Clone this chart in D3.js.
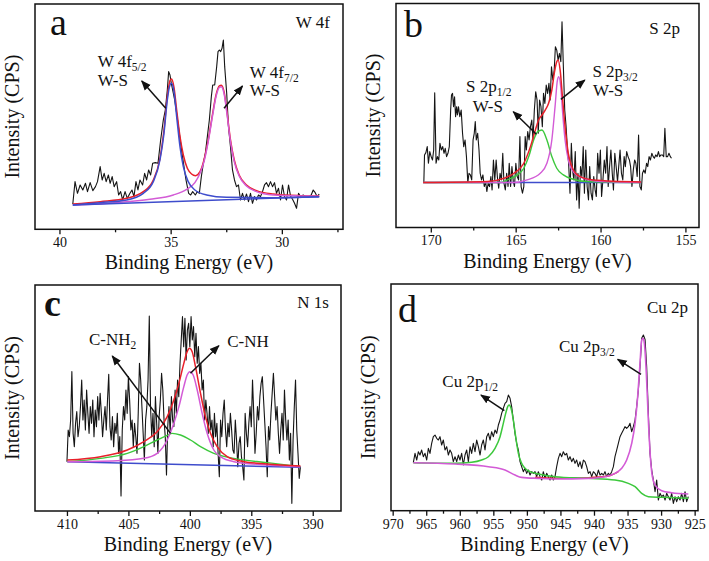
<!DOCTYPE html>
<html><head><meta charset="utf-8">
<script src="https://cdn.jsdelivr.net/npm/d3@7"></script>
<style>
body{margin:0;background:#fff;}
svg{display:block;}
svg text{font-family:"Liberation Serif","Times New Roman",Times,serif;}
</style></head><body>
<svg id="chart" width="709" height="561"></svg>
<script>
// ---------- Panel a : W 4f ----------
const wTicks = [40, 35, 30];
const wMinor = [37.5, 32.5, 27.5];
const wRaw = [[39.40,76],[39.30,143],[39.19,108],[39.07,133],[38.95,118],[38.83,138],[38.74,113],[38.62,140],[38.50,116],[38.38,128],[38.29,143],[38.17,188],[38.08,148],[37.99,168],[37.90,143],[37.80,163],[37.72,138],[37.63,158],[37.54,128],[37.43,143],[37.34,103],[37.25,113],[37.16,88],[37.05,113],[36.95,93],[36.83,108],[36.74,118],[36.65,98],[36.56,143],[36.47,118],[36.38,148],[36.26,133],[36.17,168],[36.08,148],[35.99,178],[35.90,163],[35.81,198],[35.69,200],[35.57,198],[35.45,268],[35.33,328],[35.24,358],[35.15,418],[35.09,473],[35.03,463],[34.97,438],[34.91,418],[34.82,388],[34.73,348],[34.61,288],[34.49,228],[34.40,188],[34.31,148],[34.19,108],[34.10,103],[34.01,113],[33.89,103],[33.80,113],[33.71,108],[33.62,158],[33.53,198],[33.44,228],[33.35,278],[33.26,328],[33.17,398],[33.11,433],[33.02,433],[32.93,488],[32.87,533],[32.81,538],[32.75,533],[32.69,543],[32.63,568],[32.57,488],[32.48,408],[32.40,308],[32.31,248],[32.22,178],[32.13,148],[32.04,128],[31.95,133],[31.86,88],[31.77,108],[31.68,88],[31.59,106],[31.50,83],[31.41,108],[31.32,78],[31.23,98],[31.14,88],[31.05,103],[30.96,98],[30.87,113],[30.78,133],[30.69,140],[30.60,128],[30.51,143],[30.42,128],[30.33,140],[30.24,108],[30.15,123],[30.06,88],[29.97,133],[29.88,98],[29.79,88],[29.70,133],[29.61,100],[29.52,90],[29.43,78],[29.34,63],[29.25,108],[29.16,98],[29.04,103],[28.92,98],[28.80,96],[28.68,103],[28.59,118],[28.50,110],[28.41,98],[28.32,106]];
const wFit52 = [[39.40,73],[38.17,80],[36.98,88],[36.23,108],[35.78,143],[35.48,208],[35.30,288],[35.15,388],[35.03,433],[34.96,438],[34.85,413],[34.73,338],[34.58,248],[34.43,188],[34.21,143],[33.91,118],[33.38,103],[32.49,96],[30.69,95],[28.32,98]];
const wFit72 = [[39.40,73],[37.43,80],[35.93,90],[34.88,103],[34.28,120],[33.91,140],[33.68,168],[33.50,203],[33.31,263],[33.11,343],[32.96,398],[32.81,426],[32.72,428],[32.60,408],[32.46,343],[32.31,263],[32.14,203],[31.92,160],[31.59,130],[31.14,113],[30.39,103],[29.19,100],[28.32,99]];
const wEnvelope = [[39.40,76],[38.17,83],[36.98,93],[36.23,113],[35.78,148],[35.48,213],[35.30,298],[35.15,398],[35.03,446],[34.96,451],[34.85,426],[34.73,358],[34.58,278],[34.43,223],[34.25,183],[34.06,166],[33.88,161],[33.68,173],[33.50,208],[33.31,268],[33.11,348],[32.96,403],[32.81,430],[32.72,432],[32.60,413],[32.46,348],[32.31,268],[32.14,208],[31.92,163],[31.59,133],[31.14,116],[30.39,106],[29.19,101],[28.32,100]];
const wBase = [[39.40,73],[28.32,98]];

// ---------- Panel b : S 2p ----------
const sTicks = [170, 165, 160, 155];
const sMinor = [167.5, 162.5, 157.5];
const sRaw = [[170.41,135],[170.37,218],[170.29,225],[170.21,243],[170.14,193],[170.06,228],[169.98,213],[169.90,203],[169.83,233],[169.77,405],[169.69,193],[169.61,213],[169.53,203],[169.46,253],[169.38,233],[169.30,243],[169.22,223],[169.15,238],[169.07,213],[168.99,223],[168.91,243],[168.83,353],[168.78,398],[168.72,403],[168.66,363],[168.60,393],[168.54,333],[168.48,363],[168.43,338],[168.37,363],[168.29,333],[168.21,353],[168.13,283],[168.06,243],[167.98,263],[167.90,213],[167.82,135],[167.75,163],[167.67,158],[167.59,143],[167.51,263],[167.44,283],[167.38,318],[167.32,263],[167.24,283],[167.16,233],[167.09,163],[167.01,143],[166.93,158],[166.85,123],[166.77,138],[166.70,108],[166.62,133],[166.54,123],[166.46,153],[166.39,113],[166.31,203],[166.23,143],[166.15,203],[166.08,153],[166.00,118],[165.92,163],[165.84,143],[165.76,223],[165.69,133],[165.61,113],[165.53,163],[165.45,123],[165.38,193],[165.30,123],[165.22,183],[165.14,138],[165.07,123],[164.99,193],[164.91,153],[164.83,143],[164.75,273],[164.68,123],[164.60,103],[164.52,123],[164.44,273],[164.37,233],[164.29,288],[164.21,263],[164.13,303],[164.05,323],[163.98,263],[163.90,353],[163.82,408],[163.74,383],[163.67,283],[163.59,383],[163.51,363],[163.43,303],[163.36,403],[163.28,373],[163.20,428],[163.12,403],[163.04,433],[162.97,383],[162.89,483],[162.81,443],[162.73,473],[162.66,543],[162.58,533],[162.50,503],[162.42,523],[162.34,498],[162.27,618],[162.19,483],[162.11,353],[162.03,303],[161.96,243],[161.88,193],[161.80,103],[161.72,253],[161.65,173],[161.57,143],[161.49,228],[161.41,83],[161.33,163],[161.26,58],[161.18,183],[161.10,153],[161.02,243],[160.95,103],[160.87,233],[160.79,123],[160.71,83],[160.64,183],[160.56,103],[160.48,83],[160.40,153],[160.32,113],[160.25,93],[160.17,223],[160.09,163],[160.01,233],[159.94,93],[159.86,143],[159.78,203],[159.70,163],[159.62,243],[159.55,123],[159.47,183],[159.39,233],[159.31,163],[159.24,113],[159.16,223],[159.08,183],[159.00,138],[158.93,183],[158.85,233],[158.77,163],[158.69,143],[158.61,213],[158.54,183],[158.46,228],[158.38,213],[158.30,203],[158.23,183],[158.15,123],[158.07,173],[157.99,203],[157.92,193],[157.84,153],[157.76,278],[157.68,123],[157.60,113],[157.53,163],[157.45,173],[157.37,163],[157.29,193],[157.22,183],[157.14,213],[157.06,203],[156.98,223],[156.90,213],[156.83,208],[156.75,218],[156.67,213],[156.59,228],[156.52,213],[156.44,218],[156.36,218],[156.28,213],[156.21,298],[156.13,213],[156.05,213],[155.97,223],[155.89,213],[155.82,208]];
const sFit12 = [[170.45,135],[165.88,135],[165.49,143],[164.91,158],[164.52,178],[164.23,213],[163.94,263],[163.70,288],[163.45,293],[163.16,263],[162.87,213],[162.58,178],[162.19,158],[161.61,145],[160.83,138],[157.62,135]];
const sFit32 = [[170.45,135],[165.10,135],[164.33,143],[163.55,163],[163.16,193],[162.87,263],[162.68,363],[162.54,443],[162.46,453],[162.34,420],[162.23,343],[162.09,263],[161.90,203],[161.61,168],[161.02,148],[159.86,138],[157.62,135]];
const sEnvelope = [[170.45,135],[166.66,138],[165.69,148],[165.10,163],[164.52,193],[164.13,243],[163.84,293],[163.65,323],[163.45,338],[163.26,353],[163.06,373],[162.87,413],[162.71,468],[162.58,498],[162.50,503],[162.38,473],[162.23,383],[162.07,293],[161.90,223],[161.65,178],[161.22,153],[160.44,143],[157.62,137]];
const sBase = [[170.45,135],[157.62,135]];

// ---------- Panel c : N 1s ----------
const nTicks = [410, 405, 400, 395, 390];
const nMinor = [407.5, 402.5, 397.5, 392.5];
const nRaw = [[410.0,148],[409.9,243],[409.8,223],[409.7,273],[409.6,418],[409.5,233],[409.4,193],[409.3,263],[409.2,298],[409.1,223],[409.0,253],[408.9,313],[408.8,393],[408.7,273],[408.6,333],[408.5,243],[408.4,363],[408.3,293],[408.2,233],[408.1,313],[408.0,263],[407.9,333],[407.8,223],[407.7,303],[407.6,253],[407.5,343],[407.4,273],[407.3,353],[407.2,293],[407.1,223],[407.0,273],[406.9,313],[406.8,243],[406.7,333],[406.6,410],[406.5,253],[406.4,213],[406.3,283],[406.2,193],[406.1,263],[406.0,233],[405.9,293],[405.8,173],[405.7,223],[405.6,45],[405.5,243],[405.4,313],[405.3,273],[405.2,363],[405.1,293],[405.0,403],[404.9,333],[404.8,243],[404.7,273],[404.6,193],[404.5,263],[404.4,223],[404.3,173],[404.2,293],[404.1,443],[404.0,393],[403.9,313],[403.8,233],[403.7,153],[403.6,273],[403.5,313],[403.4,393],[403.3,585],[403.2,313],[403.1,223],[403.0,293],[402.9,193],[402.8,343],[402.7,263],[402.6,173],[402.5,283],[402.4,333],[402.3,413],[402.2,363],[402.1,273],[402.0,223],[401.9,108],[401.8,253],[401.7,313],[401.6,233],[401.5,343],[401.4,273],[401.3,253],[401.2,363],[401.1,293],[401.0,393],[400.9,343],[400.8,443],[400.7,513],[400.6,583],[400.5,493],[400.4,578],[400.3,453],[400.2,543],[400.1,563],[400.0,493],[399.9,583],[399.8,513],[399.7,553],[399.6,463],[399.5,533],[399.4,443],[399.3,493],[399.2,413],[399.1,443],[399.0,363],[398.9,393],[398.8,273],[398.7,333],[398.6,293],[398.5,233],[398.4,313],[398.3,243],[398.2,273],[398.1,193],[398.0,293],[397.9,223],[397.8,263],[397.7,173],[397.6,103],[397.5,273],[397.4,223],[397.3,293],[397.2,333],[397.1,243],[397.0,193],[396.9,263],[396.8,223],[396.7,293],[396.6,243],[396.5,183],[396.4,173],[396.3,273],[396.2,213],[396.1,133],[396.0,203],[395.9,223],[395.8,163],[395.7,133],[395.6,93],[395.5,293],[395.4,233],[395.3,193],[395.2,263],[395.1,313],[395.0,253],[394.9,393],[394.8,293],[394.7,173],[394.6,233],[394.5,313],[394.4,273],[394.3,343],[394.2,383],[394.1,403],[394.0,333],[393.9,263],[393.8,193],[393.7,103],[393.6,253],[393.5,213],[393.4,293],[393.3,353],[393.2,413],[393.1,343],[393.0,273],[392.9,313],[392.8,233],[392.7,173],[392.6,243],[392.5,293],[392.4,213],[392.3,363],[392.2,273],[392.1,213],[392.0,273],[391.9,153],[391.8,233],[391.7,23],[391.6,213],[391.5,313],[391.4,393],[391.3,243],[391.2,173],[391.1,98],[391.0,133]];
const nFitNH2 = [[409.97,148],[407.26,158],[405.09,173],[403.74,193],[402.66,213],[401.84,227],[401.44,233],[400.76,228],[399.95,213],[399.13,193],[398.05,173],[396.42,158],[393.71,145],[391.00,133]];
const nFitNH = [[409.97,148],[405.91,151],[403.74,158],[402.66,173],[401.84,213],[401.30,263],[400.89,313],[400.49,373],[400.22,408],[400.00,418],[399.73,408],[399.40,363],[399.00,293],[398.59,233],[398.05,183],[397.51,163],[396.42,148],[393.71,138],[391.00,133]];
const nEnvelope = [[409.97,153],[407.26,163],[405.09,183],[403.74,208],[402.66,238],[401.84,283],[401.30,333],[400.89,383],[400.49,443],[400.22,478],[400.03,488],[399.81,478],[399.54,433],[399.13,353],[398.73,283],[398.32,233],[397.78,193],[396.96,163],[395.88,150],[393.71,141],[391.00,135]];
const nBase = [[409.97,148],[391.00,131]];

// ---------- Panel d : Cu 2p ----------
const cTicks = [970, 965, 960, 955, 950, 945, 940, 935, 930, 925];
const cMinor = [967.5, 962.5, 957.5, 952.5, 947.5, 942.5, 937.5, 932.5, 927.5];
const cRaw = [[966.92,144],[966.67,172],[966.42,152],[966.17,177],[965.93,167],[965.68,182],[965.43,162],[965.18,172],[964.93,152],[964.68,187],[964.44,172],[964.19,202],[963.94,222],[963.69,227],[963.44,217],[963.19,212],[962.95,222],[962.70,197],[962.45,212],[962.20,182],[961.95,192],[961.70,167],[961.46,182],[961.21,172],[960.96,147],[960.71,162],[960.46,147],[960.21,167],[959.97,152],[959.72,172],[959.47,137],[959.22,167],[958.97,182],[958.72,147],[958.47,192],[958.23,172],[957.98,202],[957.73,177],[957.48,212],[957.23,192],[956.98,167],[956.74,197],[956.49,212],[956.24,182],[955.99,222],[955.74,232],[955.49,212],[955.25,237],[955.00,222],[954.75,242],[954.50,232],[954.25,257],[954.00,272],[953.76,292],[953.51,307],[953.26,322],[953.01,327],[952.76,347],[952.51,337],[952.27,312],[952.02,272],[951.77,232],[951.52,202],[951.27,182],[951.02,147],[950.78,132],[950.53,117],[950.28,127],[950.03,112],[949.78,122],[949.53,107],[949.28,117],[949.04,112],[948.79,117],[948.54,102],[948.29,117],[948.04,102],[947.79,92],[947.55,117],[947.30,97],[947.05,112],[946.80,102],[946.55,92],[946.30,107],[946.06,92],[945.81,102],[945.56,132],[945.31,157],[945.06,172],[944.81,162],[944.57,177],[944.32,167],[944.07,172],[943.82,152],[943.57,162],[943.32,147],[943.07,157],[942.83,142],[942.58,152],[942.33,132],[942.08,147],[941.83,127],[941.58,152],[941.34,147],[941.09,132],[940.84,112],[940.59,117],[940.34,102],[940.09,117],[939.85,112],[939.60,102],[939.35,122],[939.10,107],[938.85,112],[938.60,107],[938.36,117],[938.11,102],[937.86,112],[937.61,107],[937.36,117],[937.11,132],[936.87,162],[936.62,182],[936.37,202],[936.12,222],[935.87,232],[935.62,242],[935.38,252],[935.13,247],[934.88,252],[934.63,262],[934.38,237],[934.13,252],[933.88,272],[933.64,312],[933.39,362],[933.14,432],[932.89,517],[932.64,527],[932.39,514],[932.15,432],[931.90,292],[931.65,172],[931.40,122],[931.15,92],[930.90,57],[930.66,92],[930.41,32],[930.16,52],[929.91,42],[929.66,47],[929.41,32],[929.17,52],[928.92,42],[928.67,32],[928.42,52],[928.17,22],[927.92,42],[927.68,27],[927.43,42],[927.18,32],[926.93,52],[926.68,27],[926.43,57],[926.19,27],[925.94,42]];
const cFit12 = [[966.92,144],[965.68,143],[960.71,142],[958.23,145],[956.74,152],[955.74,162],[954.75,187],[954.00,222],[953.51,262],[953.16,292],[952.86,312],[952.66,317],[952.36,307],[952.02,272],[951.67,222],[951.27,172],[950.78,142],[950.28,127],[949.53,117],[948.29,110],[945.81,102],[940.84,97],[936.87,92],[934.88,82],[933.88,72],[932.89,52],[931.90,42],[929.91,40],[925.94,37]];
const cFit32 = [[966.92,144],[960.71,140],[955.74,132],[953.26,122],[951.77,107],[950.78,100],[948.29,97],[945.81,95],[940.84,97],[938.36,102],[936.87,112],[935.87,127],[935.13,152],[934.38,202],[933.88,262],[933.49,342],[933.14,442],[932.89,512],[932.69,517],[932.49,502],[932.20,412],[931.90,272],[931.60,162],[931.30,102],[930.90,77],[929.91,60],[928.42,54],[925.94,50]];
const cEnvelope = [[948.79,100],[945.81,97],[940.84,99],[937.86,104],[936.37,117]];

const COL = {black:"#151515", red:"#e8202a", pink:"#d35bd6", blue:"#3e4ccc", green:"#3cc83c"};
const FONT = '"Liberation Serif","Times New Roman",Times,serif';

const panels = [
  {letter:"a", bold:false, title:"W 4f", frame:[35,4,343,229.3], xd:[41.1,27.25], yMax:676,
   ticks:wTicks, minor:wMinor, letterPos:[15,31], titlePos:[13,24],
   curves:[[wRaw,"black",1.1,false],[wEnvelope,"red",1.5,true],[wFit72,"pink",1.5,true],[wFit52,"blue",1.5,true],[wBase,"blue",1.5,false]],
   arrows:[[[35.22,363],[36.30,445]],[[32.60,363],[31.77,430]]],
   labels:[[[38.28,488],"W 4f","5/2"],[[38.28,431],"W-S",""],[[31.44,453],"W 4f","7/2"],[[31.44,401],"W-S",""]]},
  {letter:"b", bold:false, title:"S 2p", frame:[396,3.5,699,227.5], xd:[172.05,154.2], yMax:673,
   ticks:sTicks, minor:sMinor, letterPos:[8,33], titlePos:[19,30],
   curves:[[sRaw,"black",1.1,false],[sBase,"blue",1.5,false],[sFit12,"green",1.4,true],[sFit32,"pink",1.4,true],[sEnvelope,"red",1.5,true]],
   arrows:[[[163.78,280],[165.14,348]],[[162.34,385],[160.93,443]]],
   labels:[[[167.92,408],"S 2p","1/2"],[[167.53,346],"W-S",""],[[160.48,453],"S 2p","3/2"],[[160.44,396],"W-S",""]]},
  {letter:"c", bold:true, title:"N 1s", frame:[35,285,341,511], xd:[412.6,387.7], yMax:678,
   ticks:nTicks, minor:nMinor, letterPos:[9,31], titlePos:[12,23],
   curves:[[nRaw,"black",1.1,false],[nBase,"blue",1.5,false],[nFitNH2,"green",1.4,true],[nFitNH,"pink",1.5,true],[nEnvelope,"red",1.5,true]],
   arrows:[[[401.57,233],[406.31,465]],[[399.95,413],[397.64,496]]],
   labels:[[[408.21,498],"C-NH","2"],[[396.96,493],"C-NH",""]]},
  {letter:"d", bold:false, title:"Cu 2p", frame:[391,284,698,510.7], xd:[970.25,924.5], yMax:680,
   ticks:cTicks, minor:cMinor, letterPos:[7,38], titlePos:[10,29],
   curves:[[cRaw,"black",1.1,false],[cEnvelope,"red",1.5,true],[cFit12,"green",1.5,true],[cFit32,"pink",1.6,true]],
   arrows:[[[932.99,409],[936.47,454]],[[953.36,300],[956.84,347]]],
   labels:[[[945.21,477],"Cu 2p","3/2"],[[962.60,372],"Cu 2p","1/2"]]}
];

const svg = d3.select("#chart");
svg.append("defs").append("marker")
  .attr("id","arrow").attr("viewBox","0 0 10 10").attr("refX",9).attr("refY",5)
  .attr("markerUnits","userSpaceOnUse").attr("markerWidth",10).attr("markerHeight",10)
  .attr("orient","auto")
  .append("path").attr("d","M0,1 L10,5 L0,9 Z").attr("fill","#111");

panels.forEach(p => {
  const [x0,y0,x1,y1] = p.frame;
  const x = d3.scaleLinear().domain(p.xd).range([x0,x1]);
  const y = d3.scaleLinear().domain([0,p.yMax]).range([y1,y0]);
  const g = svg.append("g").attr("font-family",FONT);
  const lineLin = d3.line().x(d=>x(d[0])).y(d=>y(d[1]));
  const lineSm = d3.line().x(d=>x(d[0])).y(d=>y(d[1])).curve(d3.curveMonotoneX);

  p.curves.forEach(([data,col,w,smooth]) => {
    g.append("path").datum(data).attr("d", smooth? lineSm : lineLin)
      .attr("fill","none").attr("stroke",COL[col]).attr("stroke-width",w)
      .attr("stroke-linejoin","round");
  });

  g.append("rect").attr("x",x0).attr("y",y0).attr("width",x1-x0).attr("height",y1-y0)
    .attr("fill","none").attr("stroke","#111").attr("stroke-width",1.5);

  const ax = g.append("g").attr("transform",`translate(0,${y1})`)
    .call(d3.axisBottom(x).tickValues(p.ticks).tickSize(5).tickPadding(3).tickFormat(d3.format("d")));
  ax.attr("font-family",FONT);
  ax.select(".domain").remove();
  ax.selectAll("line").attr("stroke","#111").attr("stroke-width",1.3);
  ax.selectAll("text").attr("font-size",14).attr("font-family",FONT).attr("fill","#111");
  const axm = g.append("g").attr("transform",`translate(0,${y1})`)
    .call(d3.axisBottom(x).tickValues(p.minor).tickSize(3).tickFormat(""));
  axm.select(".domain").remove();
  axm.selectAll("line").attr("stroke","#111").attr("stroke-width",1.3);

  g.append("text").attr("x",(x0+x1)/2).attr("y",y1+40).attr("text-anchor","middle")
    .attr("font-family",FONT).attr("font-size",20).attr("fill","#111").text("Binding Energy (eV)");
  g.append("text").attr("transform",`translate(${x0-16},${(y0+y1)/2}) rotate(-90)`)
    .attr("text-anchor","middle").attr("font-family",FONT).attr("font-size",20).attr("fill","#111").text("Intensity (CPS)");

  g.append("text").attr("x",x0+p.letterPos[0]).attr("y",y0+p.letterPos[1]).attr("font-family",FONT)
    .attr("font-size",38).attr("font-weight",p.bold?"bold":"normal").attr("fill","#111").text(p.letter);
  g.append("text").attr("x",x1-p.titlePos[0]).attr("y",y0+p.titlePos[1]).attr("text-anchor","end")
    .attr("font-family",FONT).attr("font-size",17).attr("fill","#111").text(p.title);

  p.arrows.forEach(([f,t]) => {
    g.append("line").attr("x1",x(f[0])).attr("y1",y(f[1])).attr("x2",x(t[0])).attr("y2",y(t[1]))
      .attr("stroke","#111").attr("stroke-width",1.5).attr("marker-end","url(#arrow)");
  });
  p.labels.forEach(([pos,main,sub]) => {
    const t = g.append("text").attr("x",x(pos[0])).attr("y",y(pos[1])).attr("font-family",FONT)
      .attr("font-size",17).attr("fill","#111");
    t.append("tspan").text(main);
    if (sub) t.append("tspan").attr("dy",4).attr("font-size",11.5).text(sub);
  });
});
</script>
</body></html>
